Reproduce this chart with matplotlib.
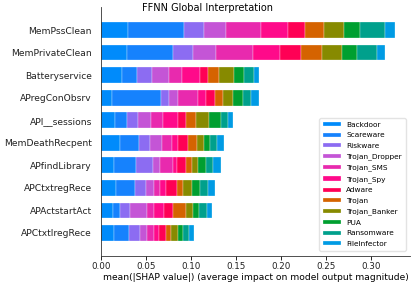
import matplotlib
matplotlib.use("Agg")
import matplotlib.pyplot as plt
import numpy as np

# features, top to bottom
features = ["MemPssClean", "MemPrivateClean", "Batteryservice", "APregConObsrv",
            "API__sessions", "MemDeathRecpent", "APfindLibrary", "APCtxtregRece",
            "APActstartAct", "APCtxtlregRece"]

classes = ["Backdoor", "Scareware", "Riskware", "Trojan_Dropper", "Trojan_SMS",
           "Trojan_Spy", "Adware", "Trojan", "Trojan_Banker", "PUA",
           "Ransomware", "FileInfector"]

colors = ["#008bfb", "#1682fd", "#8c6cf2", "#c455d6", "#e82aae", "#ff0a8a",
          "#ff0055", "#d56300", "#878a00", "#009f30", "#00a08c", "#009be4"]

# mean |SHAP| per class (rows = features as listed above)
shap_vals = [
    [0.0304, 0.0622, 0.0222, 0.0237, 0.0393, 0.0296, 0.0185, 0.0211, 0.0222, 0.0178, 0.0278, 0.0119],
    [0.0293, 0.0503, 0.0230, 0.0248, 0.0411, 0.0304, 0.0230, 0.0233, 0.0222, 0.0167, 0.0218, 0.0089],
    [0.0230, 0.0166, 0.0167, 0.0193, 0.0148, 0.0196, 0.0093, 0.0122, 0.0163, 0.0111, 0.0104, 0.0063],
    [0.0119, 0.0548, 0.0092, 0.0100, 0.0222, 0.0082, 0.0104, 0.0092, 0.0104, 0.0111, 0.0089, 0.0096],
    [0.0156, 0.0137, 0.0114, 0.0149, 0.0129, 0.0174, 0.0082, 0.0115, 0.0148, 0.0129, 0.0082, 0.0048],
    [0.0211, 0.0215, 0.0118, 0.0130, 0.0111, 0.0067, 0.0118, 0.0093, 0.0085, 0.0063, 0.0082, 0.0074],
    [0.0144, 0.0245, 0.0185, 0.0082, 0.0148, 0.0037, 0.0100, 0.0066, 0.0067, 0.0093, 0.0081, 0.0082],
    [0.0163, 0.0215, 0.0118, 0.0093, 0.0067, 0.0066, 0.0126, 0.0067, 0.0092, 0.0093, 0.0085, 0.0082],
    [0.0130, 0.0081, 0.0111, 0.0193, 0.0074, 0.0111, 0.0104, 0.0140, 0.0082, 0.0067, 0.0088, 0.0052],
    [0.0148, 0.0167, 0.0118, 0.0082, 0.0074, 0.0052, 0.0081, 0.0056, 0.0081, 0.0056, 0.0066, 0.0056],
]

vals = np.array(shap_vals)
n = len(features)
y_pos = np.arange(n)[::-1]

fig = plt.figure(figsize=(4.15, 2.86), dpi=100)
ax = fig.add_axes([0.2434, 0.1066, 0.7446, 0.8672])

left = np.zeros(n)
for j, cls in enumerate(classes):
    ax.barh(y_pos, vals[:, j], 0.7, left=left, color=colors[j], label=cls,
            edgecolor="white", linewidth=0.2)
    left += vals[:, j]

ax.set_ylim(-1, n)
ax.set_yticks(y_pos)
ax.set_yticklabels(features, fontsize=6.6, color="#222222")
ax.yaxis.set_ticks_position("none")
ax.tick_params(axis="y", pad=3)
ax.set_xticks(np.arange(0, 0.31, 0.05))
ax.set_xticklabels(["%.2f" % v for v in np.arange(0, 0.31, 0.05)], fontsize=6.3,
                   color="#222222")
ax.tick_params(axis="x", length=3, width=0.6, pad=2)
ax.set_xlabel("mean(|SHAP value|) (average impact on model output magnitude)",
              fontsize=6.6, labelpad=1)
ax.spines["top"].set_visible(False)
ax.spines["right"].set_visible(False)
ax.spines["left"].set_linewidth(0.6)
ax.spines["bottom"].set_linewidth(0.6)
ax.spines["left"].set_color("#333333")
ax.spines["bottom"].set_color("#333333")

ax.legend(loc="lower right", fontsize=5.3, frameon=True, handlelength=2.4,
          handleheight=0.5, labelspacing=0.62, borderpad=0.5,
          bbox_to_anchor=(0.998, 0.005), edgecolor="#dddddd")

fig.text(0.5, 0.972, "FFNN Global Interpretation", ha="center", va="center", fontsize=7)

fig.savefig("out.png", dpi=100)
